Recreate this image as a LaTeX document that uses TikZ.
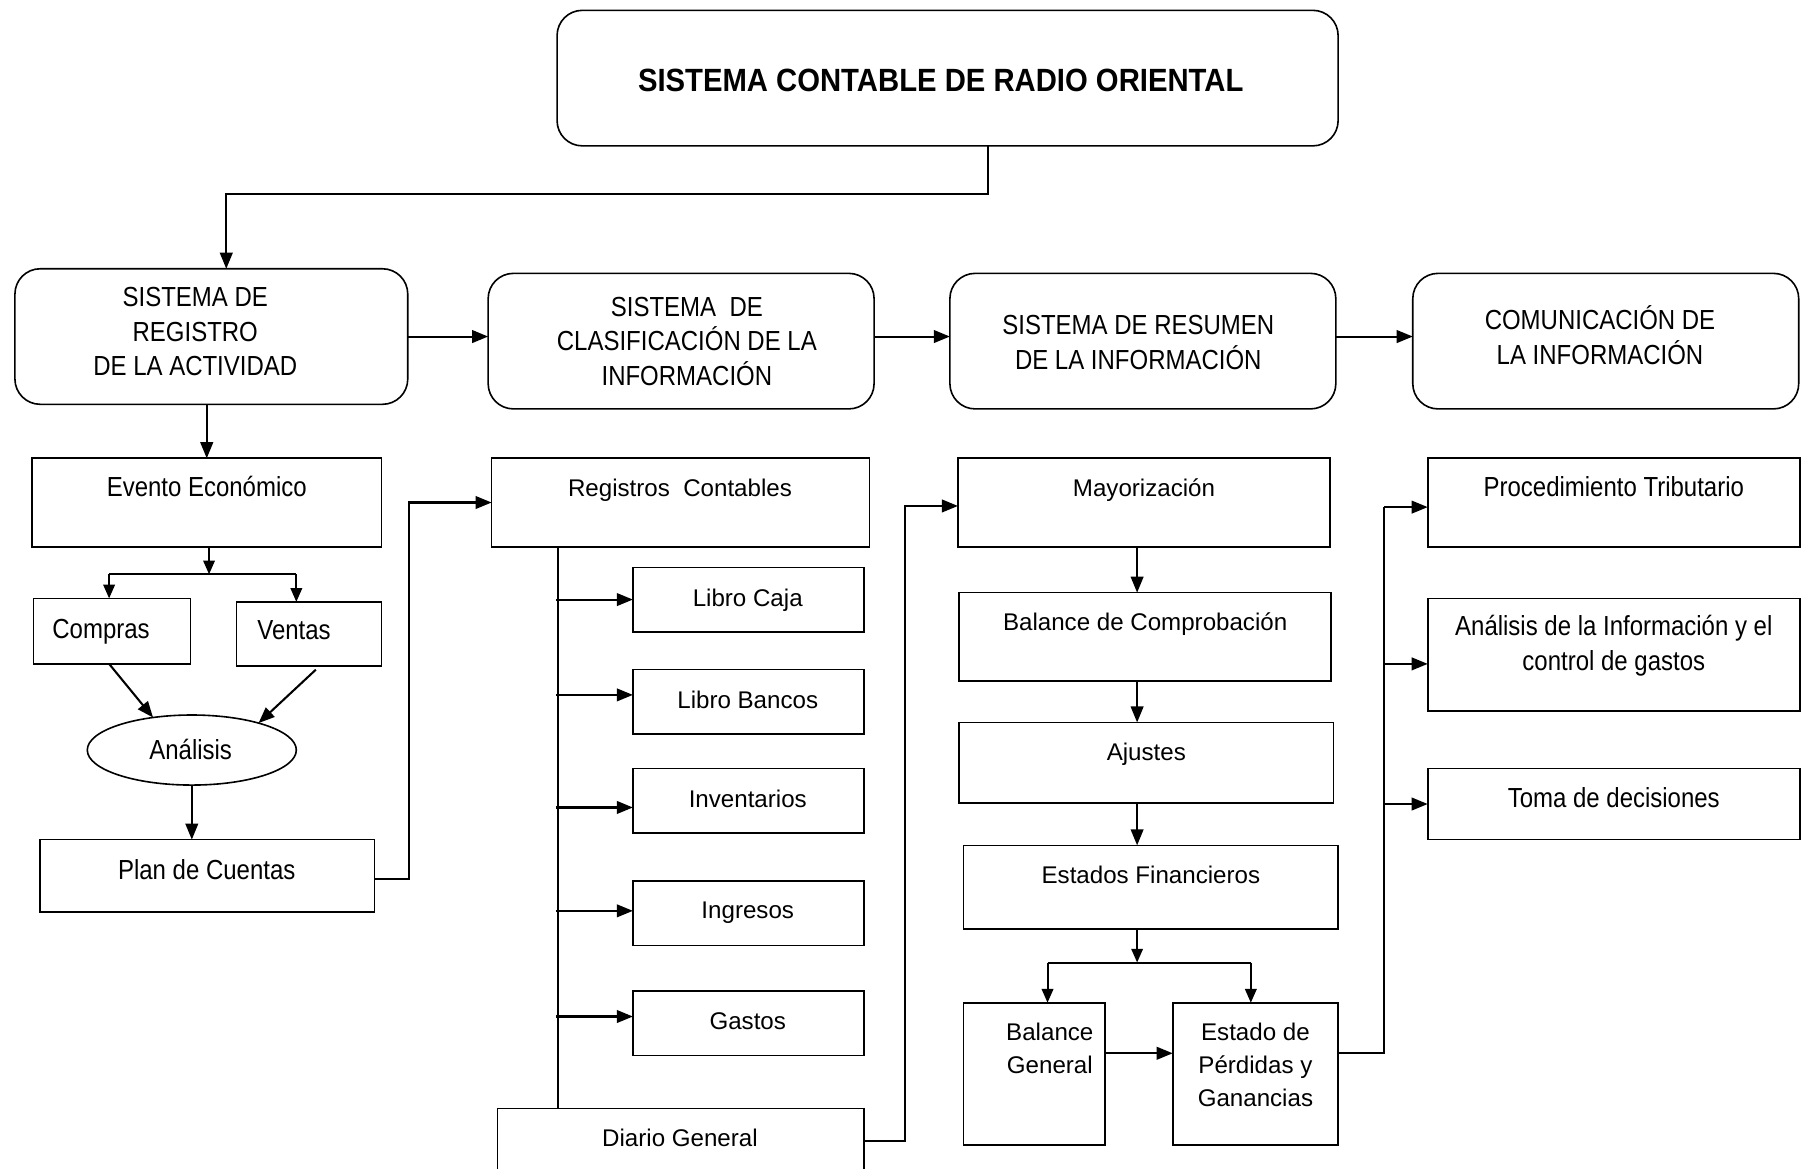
\documentclass[tikz,border=0pt]{standalone}
\usepackage{fontspec}
\setmainfont{Liberation Sans}
\newfontfamily\narrowfont[FakeStretch=0.87]{Liberation Sans}
\newfontfamily\titlefont[FakeStretch=0.91]{Liberation Sans}
\newfontfamily\widefont[FakeStretch=1.0]{Liberation Sans}
\usetikzlibrary{arrows.meta,shapes.geometric}
\newcommand\bx[6][box]{\node[#1, minimum width={#5-#3}, minimum height={#6-#4}] (#2) at ({(#3+#5)/2},{(#4+#6)/2}) {};}
\begin{document}
\begin{tikzpicture}[x=1pt,y=-1pt,
 box/.style={draw, line width=1.4pt, inner sep=0pt, outer sep=0pt},
 rbox/.style={box, rounded corners=22pt},
 nt/.style={font=\narrowfont\fontsize{24}{30}\selectfont, align=center, inner sep=0pt},
 wt/.style={font=\widefont\fontsize{21}{29}\selectfont, align=center, inner sep=0pt},
 one/.style={text height=16pt, text depth=0pt},
 conn/.style={line width=1.8pt},
 arr/.style={conn, -{Triangle[length=14pt,width=11pt]}},
 sarr/.style={conn, -{Triangle[length=12pt,width=10pt]}},
]
\useasboundingbox[fill=white] (0,0) rectangle (1568,1017);

% ---- boxes
\bx[rbox]{top}{485}{9}{1165}{127}
\bx[rbox]{reg}{13}{234}{355}{352}
\bx[rbox]{cla}{425}{238}{761}{356}
\bx[rbox]{res}{827}{238}{1163}{356}
\bx[rbox]{com}{1230}{238}{1566}{356}

\bx{ev}{28}{399}{332}{476}
\bx{cmp}{29}{521}{166}{578}
\bx{ven}{206}{524}{332}{580}
\node[draw, ellipse, line width=1.4pt, minimum width=182, minimum height=61, inner sep=0pt, outer sep=0pt] (ana) at (167,653) {};
\bx{plan}{35}{731}{326}{794}

\bx{rc}{428}{399}{757}{476}
\bx{lc}{551}{494}{752}{550}
\bx{lb}{551}{583}{752}{639}
\bx{inv}{551}{669}{752}{725}
\bx{ing}{551}{767}{752}{823}
\bx{gas}{551}{863}{752}{919}
\bx{dg}{433}{965}{752}{1021}

\bx{may}{834}{399}{1158}{476}
\bx{bdc}{835}{516}{1159}{593}
\bx{aj}{835}{629}{1161}{699}
\bx{ef}{839}{736}{1165}{809}
\bx{bg}{839}{873}{962}{997}
\bx{ep}{1021}{873}{1165}{997}

\bx{pt}{1243}{399}{1567}{476}
\bx{ai}{1243}{521}{1567}{619}
\bx{tm}{1243}{669}{1567}{731}

% ---- texts
\node[nt, font=\titlefont\bfseries\fontsize{28}{32}\selectfont, one, text height=20pt] (topT) at (819,70) {SISTEMA CONTABLE DE RADIO ORIENTAL};
\node[nt] (regT) at (170,289) {SISTEMA DE\\REGISTRO\\DE LA ACTIVIDAD};
\node[nt] (claT) at (598,297) {SISTEMA\ \ DE\\CLASIFICACIÓN DE LA\\INFORMACIÓN};
\node[nt] (resT) at (991,298) {SISTEMA DE RESUMEN\\DE LA INFORMACIÓN};
\node[nt] (comT) at (1393,292) {COMUNICACIÓN DE\\LA INFORMACIÓN};

\node[nt, one] (evT) at (180,424) {Evento Económico};
\node[nt, one] (cmpT) at (88,548) {Compras};
\node[nt, one] (venT) at (256,549) {Ventas};
\node[nt, one] (anaT) at (166,653) {Análisis};
\node[nt, one] (planT) at (180,758) {Plan de Cuentas};

\node[wt, one] (rcT) at (592,424) {Registros\ \ Contables};
\node[wt, one] (lcT) at (651,520) {Libro Caja};
\node[wt, one] (lbT) at (651,609) {Libro Bancos};
\node[wt, one] (invT) at (651,695) {Inventarios};
\node[wt, one] (ingT) at (651,792) {Ingresos};
\node[wt, one] (gasT) at (651,888) {Gastos};
\node[wt, one] (dgT) at (592,990) {Diario General};

\node[wt, one] (mayT) at (996,424) {Mayorización};
\node[wt, one] (bdcT) at (997,541) {Balance de Comprobación};
\node[wt, one] (ajT) at (998,654) {Ajustes};
\node[wt, one] (efT) at (1002,761) {Estados Financieros};
\node[wt] (bgT) at (914,913) {Balance\\General};
\node[wt] (epT) at (1093,927) {Estado de\\Pérdidas y\\Ganancias};

\node[nt, one] (ptT) at (1405,424) {Procedimiento Tributario};
\node[nt] (aiT) at (1405,562) {Análisis de la Información y el\\control de gastos};
\node[nt, one] (tmT) at (1405,695) {Toma de decisiones};

% ---- coordinates for connector routing
\coordinate (c1) at (860,169);
\coordinate (b1) at (182,500);
\coordinate (v) at (486,0);
\coordinate (b2) at (990,838);
\coordinate (vr) at (1205,0);

% ---- connectors
\draw[arr] (top.south -| c1) -- (c1) -| ([xshift=13pt]reg.north);
\draw[arr] (reg.east) -- (reg.east -| cla.west);
\draw[arr] ([yshift=4pt]cla.east) -- ([yshift=4pt]res.west);
\draw[arr] ([yshift=4pt]res.east) -- ([yshift=4pt]com.west);
\draw[arr] (ev.north |- reg.south) -- (ev.north);

\draw[sarr] ([xshift=2pt]ev.south) -- (b1);
\draw[conn] ([xshift=-2.5pt]cmp.north |- b1) -- ([xshift=-11pt]ven.north |- b1);
\draw[sarr] ([xshift=-2.5pt]cmp.north |- b1) -- ([xshift=-2.5pt]cmp.north);
\draw[sarr] ([xshift=-11pt]ven.north |- b1) -- ([xshift=-11pt]ven.north);
\draw[arr] ([xshift=-2.5pt]cmp.south) -- (ana.140);
\draw[arr] ([xshift=6pt,yshift=-3pt]ven.south) -- (ana.22);
\draw[arr] (ana.south) -- (ana.south |- plan.north);
\draw[arr] ([yshift=-3pt]plan.east) -- ++(30,0) |- (rc.west);

\draw[conn] (rc.south -| v) -- (dg.north -| v);
\draw[arr] ([xshift=-2pt]lc.west -| v) -- (lc.west);
\draw[arr] ([xshift=-2pt,yshift=6pt]lb.west -| v) -- ([yshift=6pt]lb.west);
\draw[arr] ([xshift=-2pt,yshift=-6pt]inv.west -| v) -- ([yshift=-6pt]inv.west);
\draw[arr] ([xshift=-2pt,yshift=2pt]ing.west -| v) -- ([yshift=2pt]ing.west);
\draw[arr] ([xshift=-2pt,yshift=6pt]gas.west -| v) -- ([yshift=6pt]gas.west);
\draw[arr] ([yshift=0pt]dg.east) -- ++(36,0) |- ([yshift=-3pt]may.west);

\draw[arr] (may.south -| b2) -- (bdc.north -| b2);
\draw[arr] (bdc.south -| b2) -- (aj.north -| b2);
\draw[arr] (aj.south -| b2) -- (ef.north -| b2);
\draw[sarr] (ef.south -| b2) -- (b2);
\draw[conn] ([xshift=11.5pt]bg.north |- b2) -- ([xshift=-4pt]ep.north |- b2);
\draw[sarr] ([xshift=11.5pt]bg.north |- b2) -- ([xshift=11.5pt]bg.north);
\draw[sarr] ([xshift=-4pt]ep.north |- b2) -- ([xshift=-4pt]ep.north);
\draw[arr] ([yshift=18pt]bg.east) -- ([yshift=18pt]ep.west);

\draw[conn] ([yshift=18pt]ep.east) -- ([yshift=18pt]ep.east -| vr) -- ([yshift=-4pt]pt.west -| vr);
\draw[arr] ([yshift=-4pt]pt.west -| vr) -- ([yshift=-4pt]pt.west);
\draw[arr] ([yshift=-8pt]ai.west -| vr) -- ([yshift=-8pt]ai.west);
\draw[arr] (tm.west -| vr) -- (tm.west);
\end{tikzpicture}
\end{document}
